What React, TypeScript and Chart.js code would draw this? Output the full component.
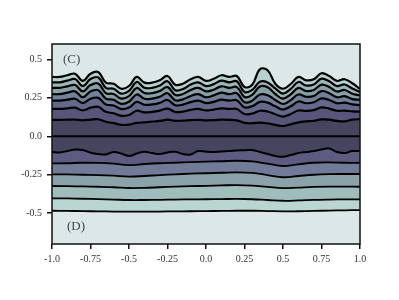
import React, { useEffect, useRef } from 'react';
import { Chart, registerables } from 'chart.js';
Chart.register(...registerables);

const xsUpper = [-1, -0.95, -0.9, -0.85, -0.8, -0.75, -0.7, -0.65, -0.6, -0.55, -0.5, -0.45, -0.4, -0.35, -0.3, -0.25, -0.2, -0.15, -0.1, -0.05, 0, 0.05, 0.1, 0.15, 0.2, 0.25, 0.3, 0.35, 0.4, 0.45, 0.5, 0.55, 0.6, 0.65, 0.7, 0.75, 0.8, 0.85, 0.9, 0.95, 1];
const xsLower = [-1, -0.9, -0.8, -0.7, -0.6, -0.5, -0.4, -0.3, -0.2, -0.1, 0, 0.1, 0.2, 0.3, 0.4, 0.5, 0.6, 0.7, 0.8, 0.9, 1];

const u7 = [0.386,0.386,0.397,0.407,0.360,0.407,0.418,0.349,0.342,0.309,0.327,0.386,0.349,0.349,0.364,0.392,0.335,0.342,0.371,0.386,0.360,0.374,0.397,0.386,0.392,0.321,0.335,0.436,0.429,0.342,0.309,0.340,0.386,0.364,0.371,0.410,0.392,0.360,0.371,0.345,0.308];
const u6 = [0.351,0.351,0.362,0.372,0.326,0.372,0.383,0.315,0.309,0.277,0.295,0.353,0.316,0.315,0.330,0.358,0.300,0.307,0.336,0.351,0.326,0.339,0.362,0.351,0.358,0.288,0.302,0.355,0.350,0.311,0.278,0.308,0.353,0.330,0.337,0.375,0.358,0.326,0.337,0.310,0.289];
const u5 = [0.315,0.315,0.325,0.333,0.292,0.333,0.343,0.281,0.275,0.245,0.261,0.314,0.281,0.281,0.295,0.320,0.269,0.275,0.301,0.315,0.292,0.303,0.325,0.315,0.320,0.256,0.269,0.324,0.319,0.275,0.245,0.273,0.315,0.294,0.301,0.336,0.320,0.291,0.301,0.277,0.266];
const u4 = [0.274,0.274,0.284,0.292,0.254,0.292,0.300,0.245,0.238,0.211,0.225,0.272,0.244,0.245,0.257,0.280,0.234,0.240,0.262,0.274,0.254,0.266,0.284,0.274,0.280,0.221,0.232,0.272,0.267,0.236,0.210,0.235,0.272,0.257,0.262,0.294,0.280,0.254,0.261,0.242,0.237];
const u3 = [0.232,0.232,0.238,0.244,0.216,0.244,0.250,0.207,0.200,0.177,0.187,0.224,0.205,0.207,0.217,0.236,0.202,0.206,0.222,0.232,0.216,0.224,0.238,0.232,0.234,0.188,0.196,0.224,0.219,0.195,0.174,0.195,0.226,0.215,0.221,0.246,0.236,0.215,0.219,0.208,0.203];
const u2 = [0.178,0.178,0.182,0.186,0.168,0.186,0.192,0.159,0.150,0.133,0.139,0.166,0.156,0.159,0.167,0.180,0.158,0.160,0.172,0.178,0.168,0.174,0.182,0.178,0.178,0.145,0.148,0.166,0.161,0.143,0.128,0.145,0.168,0.165,0.170,0.188,0.180,0.166,0.167,0.162,0.160];
const u1 = [0.107,0.107,0.108,0.109,0.104,0.109,0.111,0.095,0.086,0.074,0.076,0.087,0.091,0.095,0.100,0.108,0.101,0.102,0.105,0.107,0.104,0.105,0.108,0.107,0.104,0.087,0.085,0.089,0.084,0.074,0.067,0.078,0.091,0.097,0.101,0.110,0.108,0.100,0.097,0.108,0.112];
const zeroLine = [0, 0];
const l1 = [-0.102,-0.105,-0.096,-0.086,-0.089,-0.107,-0.115,-0.118,-0.102,-0.112,-0.128,-0.112,-0.100,-0.109,-0.115,-0.105,-0.100,-0.115,-0.118,-0.096,-0.100,-0.102,-0.098,-0.096,-0.092,-0.091,-0.089,-0.102,-0.115,-0.128,-0.133,-0.122,-0.109,-0.102,-0.096,-0.086,-0.079,-0.102,-0.109,-0.096,-0.096];
const l2 = [-0.176,-0.175,-0.172,-0.173,-0.178,-0.187,-0.180,-0.175,-0.172,-0.168,-0.165,-0.162,-0.159,-0.163,-0.178,-0.193,-0.182,-0.172,-0.170,-0.172,-0.172];
const l3 = [-0.247,-0.248,-0.250,-0.252,-0.256,-0.262,-0.258,-0.252,-0.247,-0.243,-0.240,-0.237,-0.234,-0.238,-0.252,-0.266,-0.258,-0.250,-0.246,-0.245,-0.245];
const l4 = [-0.323,-0.324,-0.326,-0.328,-0.331,-0.336,-0.335,-0.331,-0.327,-0.324,-0.322,-0.319,-0.317,-0.320,-0.329,-0.337,-0.333,-0.329,-0.327,-0.327,-0.328];
const l5 = [-0.403,-0.404,-0.406,-0.408,-0.411,-0.414,-0.414,-0.413,-0.411,-0.410,-0.409,-0.408,-0.407,-0.409,-0.414,-0.419,-0.417,-0.413,-0.411,-0.410,-0.410];
const l6 = [-0.484,-0.485,-0.486,-0.488,-0.489,-0.490,-0.490,-0.489,-0.488,-0.487,-0.486,-0.485,-0.484,-0.484,-0.486,-0.488,-0.487,-0.485,-0.483,-0.481,-0.480];

const xTickValues = [-1, -0.75, -0.5, -0.25, 0, 0.25, 0.5, 0.75, 1];
const xTickLabels = ['-1.0', '-0.75', '-0.5', '-0.25', '0.0', '0.25', '0.5', '0.75', '1.0'];
const yTickValues = [-0.5, -0.25, 0, 0.25, 0.5];
const yTickLabels = ['-0.5', '-0.25', '0.0', '0.25', '0.5'];

const upperColors = ['#b5d0cd', '#9cb7b8', '#86a0a7', '#72809a', '#64688b', '#57567a', '#46445f'];
const lowerColors = ['#46445f', '#5c5b80', '#717b98', '#8ba2a8', '#9fbdbd', '#b9d6d3'];
const panelLabels = ['(C)', '(D)'];

const pts = (xs: number[], ys: number[]) => ys.map((y, i) => ({ x: xs[i], y }));

export default function App() {
  const ref = useRef<HTMLCanvasElement>(null);
  useEffect(() => {
    const canvas = ref.current!;
    const upper = [u7, u6, u5, u4, u3, u2, u1];
    const lower = [l2, l3, l4, l5, l6];
    const datasets: any[] = [];
    upper.forEach((ys, i) => {
      datasets.push({
        data: pts(xsUpper, ys),
        borderColor: '#000',
        borderWidth: 2.2,
        backgroundColor: upperColors[i],
        fill: i === upper.length - 1 ? 'origin' : '+1',
        tension: 0.4,
        pointRadius: 0,
      });
    });
    datasets.push({
      data: pts([-1, 1], zeroLine),
      borderColor: '#000',
      borderWidth: 2,
      fill: false,
      pointRadius: 0,
    });
    datasets.push({
      data: pts(xsUpper, l1),
      borderColor: '#000',
      borderWidth: 2,
      backgroundColor: lowerColors[0],
      fill: 'origin',
      tension: 0.4,
      pointRadius: 0,
    });
    lower.forEach((ys, i) => {
      datasets.push({
        data: pts(xsLower, ys),
        borderColor: '#000',
        borderWidth: 1.8,
        backgroundColor: lowerColors[i + 1],
        fill: '-1',
        tension: 0.4,
        pointRadius: 0,
      });
    });

    const framePlugin = {
      id: 'frame',
      beforeDraw(chart: any) {
        const { ctx, chartArea: a } = chart;
        ctx.save();
        ctx.fillStyle = '#dce8e8';
        ctx.fillRect(a.left, a.top, a.right - a.left, a.bottom - a.top);
        ctx.restore();
      },
      afterDraw(chart: any) {
        const { ctx, chartArea: a } = chart;
        ctx.save();
        ctx.strokeStyle = '#111';
        ctx.lineWidth = 1.5;
        ctx.strokeRect(a.left, a.top, a.right - a.left, a.bottom - a.top);
        ctx.fillStyle = '#444';
        ctx.font = '13px "Liberation Serif"';
        ctx.textBaseline = 'middle';
        ctx.textAlign = 'left';
        ctx.fillText(panelLabels[0], a.left + 11, a.top + 16);
        ctx.fillText(panelLabels[1], a.left + 15, a.bottom - 17);
        ctx.restore();
      },
    };

    const tickFont = { family: 'Liberation Serif', size: 10 };
    const chart = new Chart(canvas, {
      type: 'line',
      data: { datasets },
      options: {
        responsive: false,
        animation: false,
        devicePixelRatio: 1,
        layout: { padding: { left: 0, top: 44, right: 39, bottom: 0 } },
        plugins: {
          legend: { display: false },
          tooltip: { enabled: false },
          filler: { drawTime: 'beforeDatasetsDraw' },
        },
        scales: {
          x: {
            type: 'linear',
            min: -1,
            max: 1,
            afterBuildTicks: (s: any) => { s.ticks = xTickValues.map((v) => ({ value: v })); },
            afterFit: (s: any) => { s.height = 56; },
            ticks: {
              callback: (_v: any, i: number) => xTickLabels[i],
              font: tickFont,
              color: '#333',
              padding: 4,
              maxRotation: 0,
              autoSkip: false,
            },
            grid: { drawOnChartArea: false, drawTicks: true, tickLength: 5, color: '#111', lineWidth: 1.5 },
            border: { display: false },
          },
          y: {
            type: 'linear',
            min: -0.7,
            max: 0.6,
            afterBuildTicks: (s: any) => { s.ticks = yTickValues.map((v) => ({ value: v })); },
            afterFit: (s: any) => { s.width = 52; },
            ticks: {
              callback: (_v: any, i: number) => yTickLabels[i],
              font: tickFont,
              color: '#333',
              padding: 5,
              autoSkip: false,
            },
            grid: { drawOnChartArea: false, drawTicks: true, tickLength: 5, color: '#111', lineWidth: 1.5 },
            border: { display: false },
          },
        },
      },
      plugins: [framePlugin],
    } as any);
    return () => chart.destroy();
  }, []);
  return (
    <div style={{ position: 'absolute', left: 0, top: 0, width: 399, height: 300, background: '#fff' }}>
      <canvas ref={ref} width={399} height={300} style={{ display: 'block', width: 399, height: 300 }} />
    </div>
  );
}
